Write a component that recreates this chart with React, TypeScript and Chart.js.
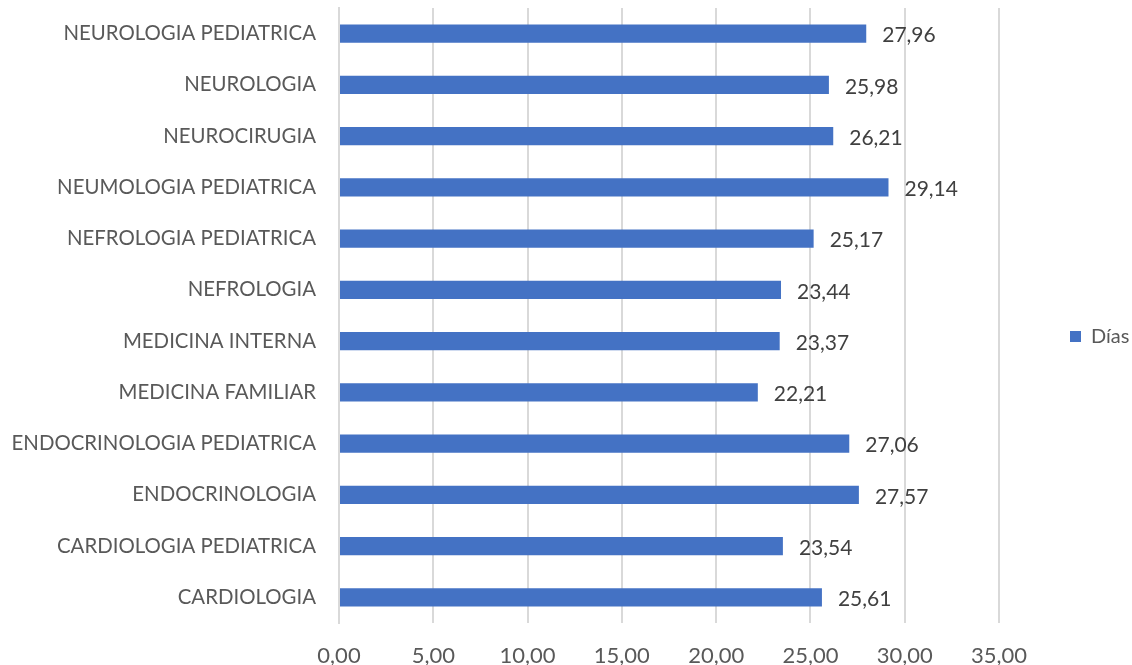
import React, { useEffect, useRef } from "react";
import { Chart, registerables } from "chart.js";

Chart.register(...registerables);

const categories = [
  "NEUROLOGIA PEDIATRICA",
  "NEUROLOGIA",
  "NEUROCIRUGIA",
  "NEUMOLOGIA PEDIATRICA",
  "NEFROLOGIA PEDIATRICA",
  "NEFROLOGIA",
  "MEDICINA INTERNA",
  "MEDICINA FAMILIAR",
  "ENDOCRINOLOGIA PEDIATRICA",
  "ENDOCRINOLOGIA",
  "CARDIOLOGIA PEDIATRICA",
  "CARDIOLOGIA",
];
const dias = [27.96, 25.98, 26.21, 29.14, 25.17, 23.44, 23.37, 22.21, 27.06, 27.57, 23.54, 25.61];
const seriesName = "Días";
const xMin = 0;
const xMax = 35;
const xStep = 5;

const FONT = "Lato, 'Liberation Sans', sans-serif";
const fmt = (v: number) => v.toFixed(2).replace(".", ",");

const dataLabels = {
  id: "dataLabels",
  afterDatasetsDraw(chart: any) {
    const ctx = chart.ctx;
    const meta = chart.getDatasetMeta(0);
    ctx.save();
    ctx.font = `21px ${FONT}`;
    ctx.fillStyle = "#404040";
    ctx.textAlign = "left";
    ctx.textBaseline = "middle";
    meta.data.forEach((el: any, i: number) => {
      ctx.fillText(fmt(dias[i]), el.x + 16, el.y + 2);
    });
    ctx.restore();
  },
};

const legendGap = {
  id: "legendGap",
  beforeInit(chart: any) {
    const origFit = chart.legend.fit;
    chart.legend.fit = function () {
      origFit.bind(this)();
      this.width = 133;
    };
  },
};

export default function App() {
  const ref = useRef<HTMLCanvasElement | null>(null);
  useEffect(() => {
    if (!ref.current) return;
    const chart = new Chart(ref.current, {
      type: "bar",
      data: {
        labels: categories,
        datasets: [
          {
            label: seriesName,
            data: dias,
            backgroundColor: "#4472C4",
            borderWidth: 0,
            barPercentage: 0.36,
            categoryPercentage: 1,
          },
        ],
      },
      options: {
        indexAxis: "y",
        animation: false,
        responsive: false,
        layout: { padding: { top: 8, left: 0, right: 0, bottom: 0 } },
        scales: {
          x: {
            min: xMin,
            max: xMax,
            ticks: {
              stepSize: xStep,
              color: "#595959",
              font: { family: FONT, size: 22 },
              padding: 20,
              callback: (v: any) => fmt(Number(v)),
            },
            grid: { color: "#D9D9D9", lineWidth: 2, drawTicks: false },
            border: { display: false },
            afterFit(scale: any) {
              scale.height = 42;
            },
          },
          y: {
            ticks: {
              color: "#595959",
              font: { family: FONT, size: 20.4 },
              padding: 23,
            },
            grid: { display: false, drawTicks: false },
            border: { display: true, color: "#D9D9D9", width: 2 },
            afterFit(scale: any) {
              scale.width = 339;
              scale.paddingTop = 0;
              scale.paddingBottom = 0;
            },
          },
        },
        plugins: {
          legend: {
            position: "right",
            labels: {
              boxWidth: 11,
              boxHeight: 11,
              padding: 71,
              color: "#595959",
              font: { family: FONT, size: 20 },
            },
          },
          tooltip: { enabled: false },
        },
      },
      plugins: [dataLabels, legendGap],
    });
    return () => chart.destroy();
  }, []);
  return (
    <div style={{ position: "fixed", left: 0, top: 0, width: 1132, height: 665, background: "#fff" }}>
      <canvas ref={ref} width={1132} height={665} />
    </div>
  );
}
